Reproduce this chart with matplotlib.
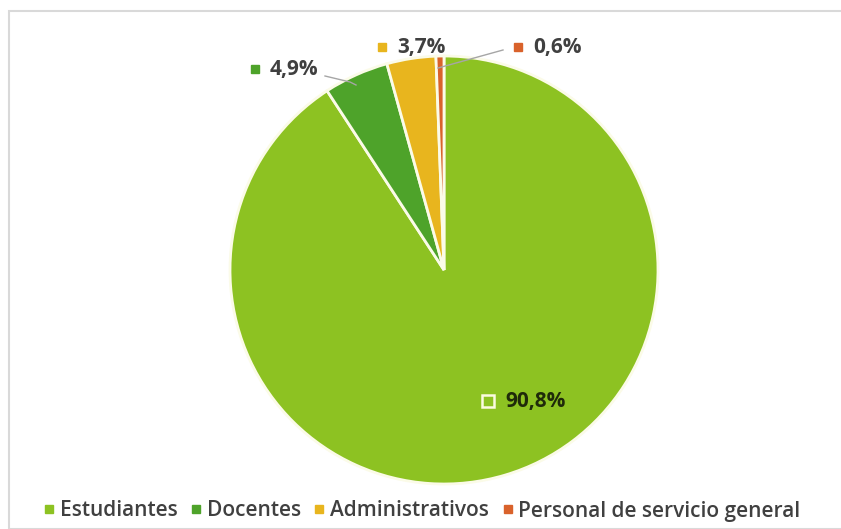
import matplotlib.pyplot as plt
from matplotlib.lines import Line2D
from matplotlib.patches import Rectangle

categories = ["Estudiantes", "Docentes", "Administrativos", "Personal de servicio general"]
shares = [90.8, 4.9, 3.7, 0.6]
colors = ["#8dc222", "#4ea32a", "#e8b51e", "#d9622b"]

W, H = 841, 529
cx, cy, r = 444, 270, 214  # pie centre and radius in pixels

plt.rcParams['font.family'] = ['Open Sans', 'DejaVu Sans']

fig = plt.figure(figsize=(W / 100, H / 100), dpi=100)
fig.patch.set_facecolor("white")

# thin grey frame around the chart area
fig.add_artist(Rectangle((9 / W, 0), 1, 1 - 11 / H, transform=fig.transFigure,
                         fill=False, edgecolor="#d9d9d9", linewidth=1.5))

ax = fig.add_axes([(cx - r) / W, (H - cy - r) / H, 2 * r / W, 2 * r / H])
ax.pie(shares, colors=colors, startangle=90, counterclock=False, radius=1,
       wedgeprops=dict(edgecolor="#fbfbe8", linewidth=2))
ax.set_xlim(-1, 1)
ax.set_ylim(-1, 1)
ax.set_aspect("auto")
ax.axis("off")


def px(x, y):
    return (x - cx) / r, (cy - y) / r


def fmt(v):
    return f"{v:.1f}%".replace(".", ",")


# label positions (pixel coords of marker square) and leader lines
label_pos = [(488, 401), (255, 69), (382, 47), (518, 47)]
leaders = [None, [(325, 76), (350, 82), (356, 85)], None, [(503, 50), (438, 68)]]

for i, (v, c) in enumerate(zip(shares, colors)):
    mx, my = label_pos[i]
    if i == 0:
        ax.plot(*px(mx, my), marker="s", markersize=8, markerfacecolor=c,
                markeredgecolor="#fbfbe0", markeredgewidth=1.8, clip_on=False)
        tc = "#1f2a0a"
        gap = 17
    else:
        ax.plot(*px(mx, my), marker="s", markersize=6, color=c, clip_on=False)
        tc = "#404040"
        gap = 15
    tx, ty = px(mx + gap, my)
    ax.text(tx, ty, fmt(v), fontsize=15, fontweight="bold", color=tc,
            ha="left", va="center", clip_on=False)
    if leaders[i]:
        pts = [px(*p) for p in leaders[i]]
        ax.plot([p[0] for p in pts], [p[1] for p in pts], color="#a6a6a6",
                linewidth=1, clip_on=False)

handles = [Line2D([], [], marker="s", linestyle="none", markersize=6, color=c)
           for c in colors]
fig.legend(handles, categories, loc="center", bbox_to_anchor=(0.5, 1 - 511 / H),
           ncol=4, frameon=False, handletextpad=0.1,
           columnspacing=0.5, handlelength=0.8,
           prop=dict(size=15, weight="semibold"), labelcolor="#404040")

plt.savefig("out.png", dpi=100)
plt.close()
